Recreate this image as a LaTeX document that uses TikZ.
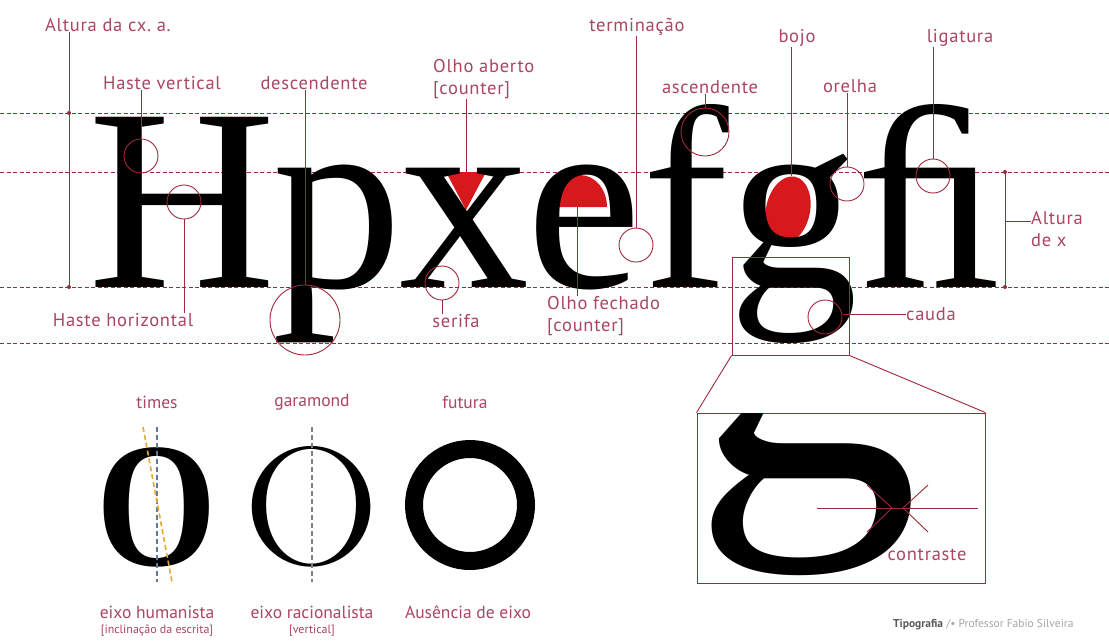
\documentclass[tikz,border=0pt]{standalone}
\usepackage{fontspec}
\newfontfamily\labfont[LetterSpace=4]{PT Sans}
\newfontfamily\labplain{PT Sans}
\newfontfamily\bigserif{Liberation Serif}
\definecolor{linered}{RGB}{160,40,60}
\definecolor{labred}{RGB}{170,70,95}
\definecolor{fillred}{RGB}{215,25,30}
\definecolor{axorange}{RGB}{230,170,50}
\definecolor{axblue}{RGB}{100,120,150}
\begin{document}
\begin{tikzpicture}[x=1pt,y=-1pt,
  lab/.style={font=\labfont\fontsize{18.5}{21.5}\selectfont, text=labred, inner sep=0pt},
  blab/.style={font=\labplain\fontsize{17.5}{20}\selectfont, text=labred, inner sep=0pt},
  smalllab/.style={font=\labplain\fontsize{12}{14}\selectfont, text=labred, inner sep=0pt},
  ln/.style={draw=linered, line width=0.9pt},
  ring/.style={circle, draw=linered, line width=0.9pt, inner sep=0pt},
  guide/.style={draw=linered, line width=0.9pt, dash pattern=on 4pt off 2.5pt},
  glyph/.style={font=\bigserif\fontsize{260}{260}\selectfont, inner sep=0pt, anchor=base west},
]
\useasboundingbox[fill=white] (0,0) rectangle (1109,641);

% guide lines
\foreach \yy in {113,172,287,343} \draw[guide] (0,\yy) -- (1109,\yy);

% red counters (behind letters)
\fill[fillred] (446,172) -- (486,172) -- (466,210) -- cycle;
\fill[fillred] (553,207) arc[start angle=180, end angle=360, x radius=27, y radius=32] -- cycle;
\fill[fillred, rotate around={-12:(788,210)}] (788,210) ellipse[x radius=22, y radius=34];

% big letters
\node[glyph] (gH) at (88,287) {H};
\node[glyph] (gp) at (272,287) {p};
\node[glyph] (gx) at (399,287) {x};
\node[glyph] (ge) at (526,287) {e};
\node[glyph] (gf) at (642,287) {f};
\node[glyph] (gg) at (728,287) {g};
\node[glyph] (gfi) at (856,287) {ﬁ};

% Altura da cx. a.
\node[lab, anchor=west] (acx) at (45,25) {Altura da cx.\ a.};
\coordinate (acxb) at (69,287);
\draw[ln] (acx.south -| acxb) -- (acxb);
\fill[linered] (69,113) circle[radius=2pt];
\fill[linered] (69,287) circle[radius=2pt];

% Haste vertical
\node[lab] (hvl) at (162,83) {Haste vertical};
\node[ring, minimum size=34pt] (hvc) at (141,156) {};
\draw[ln] (hvc.north) -- (hvc.north |- hvl.south);

% descendente
\node[lab] (del) at (314,83) {descendente};
\node[ring, minimum size=70pt] (dec) at (305,320) {};
\draw[ln] (dec.north) -- (dec.north |- del.south);

% Haste horizontal
\node[lab] (hhl) at (123,320) {Haste horizontal};
\node[ring, minimum size=34pt] (hhc) at (184,202) {};
\draw[ln] (hhc.south) -- (hhc.south |- hhl.north);

% Olho aberto
\node[lab, anchor=west, align=left] (oal) at (433,79) {Olho aberto\\{}[counter]};
\coordinate (oat) at (466,172);
\draw[ln] (oat) -- (oat |- oal.south);

% terminacao
\node[lab] (tel) at (637,27) {terminação};
\node[ring, minimum size=34pt] (tec) at (636,245) {};
\draw[ln] (tec.north) -- (tec.north |- tel.south);

% serifa
\node[lab] (sel) at (456,321) {serifa};
\node[ring, minimum size=34pt] (sec) at (442,283) {};
\draw[ln] (sec.south) -- (sec.south |- sel.north);

% Olho fechado
\node[lab, anchor=west, align=left] (ofl) at (547,316) {Olho fechado\\{}[counter]};
\coordinate (oft) at (577,206);
\draw[ln] (oft) -- (oft |- ofl.north);

% ascendente
\node[lab] (asl) at (710,87) {ascendente};
\node[ring, minimum size=48pt] (asc) at (705,132) {};
\draw[ln] (asc.north) -- (asc.north |- asl.south);

% bojo
\node[lab] (bol) at (797,38) {bojo};
\coordinate (bot) at (791,176);
\draw[ln] (bot) -- (bot |- bol.south);

% orelha
\node[lab] (orl) at (850,86) {orelha};
\node[ring, minimum size=34pt] (orc) at (847,184) {};
\draw[ln] (orc.north) -- (orc.north |- orl.south);

% ligatura
\node[lab] (lil) at (960,38) {ligatura};
\node[ring, minimum size=34pt] (lic) at (933,176) {};
\draw[ln] (lic.north) -- (lic.north |- lil.south);

% Altura de x
\node[lab, anchor=west, align=left] (axl) at (1031,229) {Altura\\de x};
\coordinate (axt) at (1005,172);
\coordinate (axb) at (1005,287);
\coordinate (axm) at (1005,221);
\draw[ln] (axt) -- (axb);
\fill[linered] (axt) circle[radius=2pt];
\fill[linered] (axb) circle[radius=2pt];
\draw[ln] (axm) -- (axm -| axl.west);

% cauda
\node[lab, anchor=west] (cal) at (906,314) {cauda};
\node[ring, minimum size=34pt] (cac) at (825,317) {};
\coordinate (cas) at (843,314);
\draw[ln] (cas) -- (cal.west);

% zoom boxes
\node[draw=linered, line width=0.9pt, inner sep=0pt, minimum width=117pt, minimum height=98pt] (sbox) at (790.5,306) {};
\node[draw=linered, line width=0.9pt, inner sep=0pt, minimum width=288pt, minimum height=170pt] (bbox) at (841,498) {};
\draw[ln] (sbox.south west) -- (bbox.north west);
\draw[ln] (sbox.south east) -- (bbox.north east);
\begin{scope}
\clip (697,413) rectangle (985,583);
\node[glyph, scale=1.75] (gbig) at (692,477) {g};
\end{scope}
% contraste
\coordinate (cl) at (817,508);
\coordinate (cr) at (978,508);
\coordinate (ctl) at (892,508);
\coordinate (ctr) at (903,508);
\draw[ln] (cl) -- (cr);
\draw[ln] (867,485) -- (ctl) -- (867,532);
\draw[ln] (928,485) -- (ctr) -- (928,532);
\node[lab] (col) at (927,555) {contraste};

% bottom: axes
\node[blab] (til) at (157,402) {times};
\node[blab] (gal) at (312,402) {garamond};
\node[blab] (ful) at (465,402) {futura};
\node[font=\bigserif\bfseries\fontsize{178}{178}\selectfont, inner sep=0pt, anchor=base, xscale=0.87] (oT) at (157,565) {O};
\node[font=\rmfamily\fontsize{169}{169}\selectfont, inner sep=0pt, anchor=base, xscale=1.12] (oG) at (312,564) {O};
\node[circle, draw=black, line width=18pt, minimum size=112pt, inner sep=0pt] (oF) at (470,505) {};
\draw[axblue, line width=1.6pt, dash pattern=on 5pt off 3pt] (157,427) -- (157,582);
\draw[axorange, line width=1.6pt, dash pattern=on 5pt off 3pt] (143,427) -- (172,582);
\draw[gray, line width=1.6pt, dash pattern=on 5pt off 3pt] (312,427) -- (312,582);

\node[blab] (ehl) at (157,612) {eixo humanista};
\node[smalllab] (ehs) at (157,631) {[inclinação da escrita]};
\node[blab] (erl) at (312,612) {eixo racionalista};
\node[smalllab] (ers) at (312,631) {[vertical]};
\node[blab] (ael) at (468,612) {Ausência de eixo};

% footer
\node[font=\labplain\fontsize{11.5}{13}\selectfont, text=gray!70, anchor=west, inner sep=0pt] (foot) at (893,625) {\textcolor{black!65}{\textbf{Tipografia}} /• Professor Fabio Silveira};
\end{tikzpicture}
\end{document}
